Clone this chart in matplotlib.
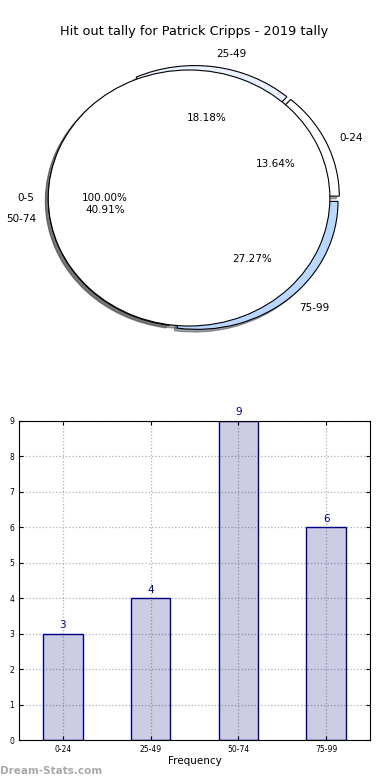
import matplotlib
matplotlib.use('Agg')
import matplotlib.pyplot as plt
import numpy as np

title = 'Hit out tally for Patrick Cripps - 2019 tally'
intervals = ['0-24', '25-49', '50-74', '75-99']
counts = [3, 4, 9, 6]
slice_colors = ['#ffffff', '#eaf1ff', '#ffffff', '#b9d7ff']
# the odd extra slice that sits on top of the pie
extra_labels = ['0-5']
extra_counts = [1]

fig = plt.figure(figsize=(3.9, 7.8), dpi=100)

# pie chart
ax1 = fig.add_axes([18 / 390, 1 - 358 / 780, 352 / 390, 320 / 780])
ax1.pie(counts, labels=intervals, colors=slice_colors, autopct='%.2f%%',
        explode=[0.035] * len(counts), shadow={'ox': -0.015, 'oy': -0.015},
        wedgeprops={'edgecolor': 'black', 'linewidth': 0.8},
        textprops={'fontsize': 7.5})
ax1.pie(extra_counts, labels=extra_labels, colors=['white'], autopct='%.2f%%',
        explode=[0.035], shadow={'ox': -0.015, 'oy': -0.015},
        wedgeprops={'edgecolor': 'black', 'linewidth': 0.8},
        textprops={'fontsize': 7.5})
ax1.set_aspect('auto')
ax1.set_xlim(-1.25, 1.25)
ax1.set_ylim(-1.25, 1.25)
ax1.set_title(title, fontsize=9.3, pad=2.5)

# bar chart
ax2 = fig.add_axes([19 / 390, 1 - 740 / 780, 351 / 390, 319 / 780])
x = np.arange(len(intervals))
ax2.bar(x, counts, width=0.45, color=(0, 0, 0.5, 0.2), edgecolor='navy', linewidth=1)
for xi, c in zip(x, counts):
    ax2.text(xi, c + 0.1, str(c), ha='center', va='bottom', color='navy', fontsize=7.5)
ax2.set_xlim(-0.5, 3.5)
ax2.set_ylim(0, 9)
ax2.set_xticks(x)
ax2.set_xticklabels(intervals)
ax2.set_yticks(range(10))
ax2.tick_params(direction='in', top=True, right=True, labelsize=5.5, length=3)
ax2.grid(True, linestyle=':', color='#b0b0b0', linewidth=0.9)
ax2.set_axisbelow(True)
ax2.set_xlabel('Frequency', fontsize=7.5, labelpad=1.5)
ax2.set_ylabel('Stat intervals', fontsize=7.5)
ax2.yaxis.set_label_coords(-0.046, 0.5)

fig.text(0.0, 0.008, 'Dream-Stats.com', fontsize=7.5, fontweight='bold', color='#a8a8a8')

fig.savefig('out.png', dpi=100)
